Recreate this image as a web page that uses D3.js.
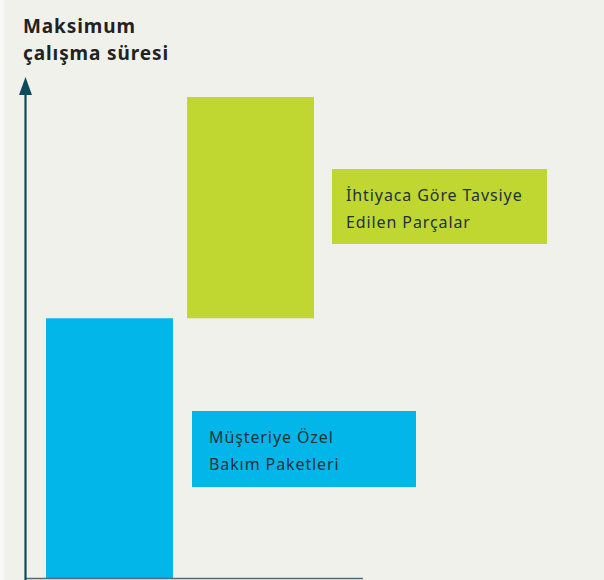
<!DOCTYPE html>
<html>
<head>
<meta charset="utf-8">
<script src="https://cdn.jsdelivr.net/npm/d3@7"></script>
<style>
  body { margin: 0; background: #F1F1EC; }
  svg { display: block; }
  .label { font-family: "Noto Sans", sans-serif; font-size: 16px; letter-spacing: 0.9px; fill: #233238; }
  .title { font-family: "Noto Sans", sans-serif; font-size: 19px; font-weight: bold; letter-spacing: 0.9px; fill: #222; }
</style>
</head>
<body>
<div id="chart"></div>
<script>
// Data:
var categories = ["Müşteriye Özel Bakım Paketleri", "İhtiyaca Göre Tavsiye Edilen Parçalar"];
var startValues = [0, 54];
var endValues = [54, 100];
var labelLines = [["Müşteriye Özel", "Bakım Paketleri"], ["İhtiyaca Göre Tavsiye", "Edilen Parçalar"]];
var colors = ["#02B6EA", "#BFD730"];
var titleLines = ["Maksimum", "çalışma süresi"];

// Layout:
var WIDTH = 604, HEIGHT = 580,
  AXIS_X = 25.5, BASE_Y = 578, TOP_Y = 97,
  BOXES = [{ x: 192, y: 411, w: 224, h: 76, tx: 17 }, { x: 332, y: 169, w: 215, h: 75, tx: 14 }];

var svg = d3.select("#chart").append("svg")
  .attr("width", WIDTH)
  .attr("height", HEIGHT);

svg.append("rect")
  .attr("width", WIDTH).attr("height", HEIGHT)
  .attr("fill", "#F1F1EC");
svg.append("rect")
  .attr("width", 4).attr("height", HEIGHT)
  .attr("fill", "#F8F8F5");

var x = d3.scaleBand()
  .domain(categories)
  .range([46, 314])
  .paddingInner(0.1)
  .paddingOuter(0);

var y = d3.scaleLinear()
  .domain([0, 100])
  .range([BASE_Y, TOP_Y]);

// Bars
svg.selectAll("rect.bar")
  .data(categories)
  .enter()
  .append("rect")
  .attr("class", "bar")
  .attr("x", function(d) { return x(d); })
  .attr("width", x.bandwidth())
  .attr("y", function(d, i) { return y(endValues[i]); })
  .attr("height", function(d, i) { return y(startValues[i]) - y(endValues[i]); })
  .attr("fill", function(d, i) { return colors[i]; });

// Axes
svg.append("line")
  .attr("x1", AXIS_X).attr("x2", 363)
  .attr("y1", BASE_Y + 0.5).attr("y2", BASE_Y + 0.5)
  .attr("stroke", "#4D6E77").attr("stroke-width", 1.6);

svg.append("line")
  .attr("x1", AXIS_X).attr("x2", AXIS_X)
  .attr("y1", 94).attr("y2", HEIGHT)
  .attr("stroke", "#0F4A5A").attr("stroke-width", 2.2);

svg.append("path")
  .attr("d", "M" + AXIS_X + ",77 L" + (AXIS_X + 6.5) + ",95 L" + (AXIS_X - 6.5) + ",95 Z")
  .attr("fill", "#0F4A5A");

// Title
svg.append("text")
  .attr("class", "title")
  .selectAll("tspan")
  .data(titleLines)
  .enter()
  .append("tspan")
  .attr("x", 23)
  .attr("y", function(d, i) { return 33 + i * 27; })
  .text(function(d) { return d; });

// Label boxes
var boxes = svg.selectAll("g.box")
  .data(categories)
  .enter()
  .append("g")
  .attr("class", "box")
  .attr("transform", function(d, i) { return "translate(" + BOXES[i].x + "," + BOXES[i].y + ")"; });

boxes.append("rect")
  .attr("width", function(d, i) { return BOXES[i].w; })
  .attr("height", function(d, i) { return BOXES[i].h; })
  .attr("fill", function(d, i) { return colors[i]; });

boxes.each(function(d, i) {
  d3.select(this).append("text")
    .attr("class", "label")
    .selectAll("tspan")
    .data(labelLines[i])
    .enter()
    .append("tspan")
    .attr("x", BOXES[i].tx)
    .attr("y", function(line, j) { return 32 + j * 27; })
    .text(function(line) { return line; });
});
</script>
</body>
</html>
